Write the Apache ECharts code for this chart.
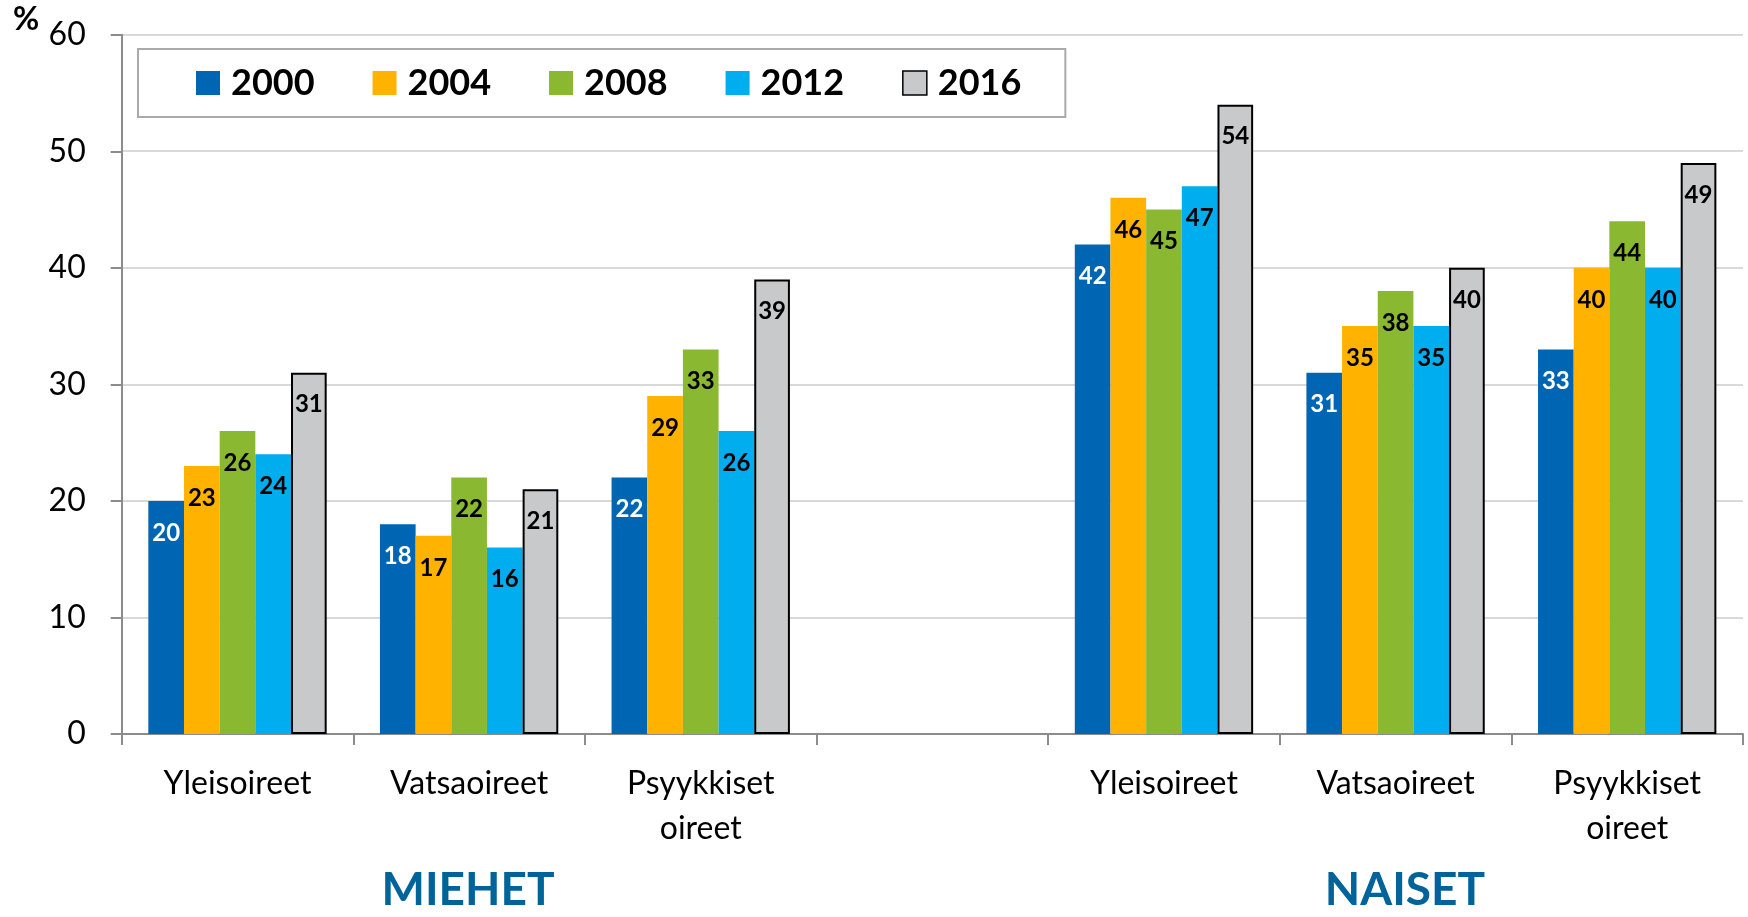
<!DOCTYPE html>
<html>
<head>
<meta charset="utf-8">
<script src="https://cdn.jsdelivr.net/npm/echarts@6/dist/echarts.min.js"></script>
<style>
html,body{margin:0;padding:0;background:#fff;}
#chart{width:1748px;height:917px;}
</style>
</head>
<body>
<div id="chart"></div>
<script>
const categories = ['Yleisoireet', 'Vatsaoireet', 'Psyykkiset\noireet', '', 'Yleisoireet', 'Vatsaoireet', 'Psyykkiset\noireet'];
const years = ['2000', '2004', '2008', '2012', '2016'];
const s2000 = [20, 18, 22, null, 42, 31, 33];
const s2004 = [23, 17, 29, null, 46, 35, 40];
const s2008 = [26, 22, 33, null, 45, 38, 44];
const s2012 = [24, 16, 26, null, 47, 35, 40];
const s2016 = [31, 21, 39, null, 54, 40, 49];
const yTicks = [0, 10, 20, 30, 40, 50, 60];
const groupLabels = ['MIEHET', 'NAISET'];

const colors = ['#0066b3', '#ffb300', '#8bb831', '#00adee', '#c8c9cb'];
const seriesData = [s2000, s2004, s2008, s2012, s2016];
const FONT = 'Lato, "Open Sans", sans-serif';

const chart = echarts.init(document.getElementById('chart'), null, {renderer: 'canvas'});

const series = years.map((y, i) => ({
  name: y,
  type: 'bar',
  data: seriesData[i],
  barGap: '0%',
  barCategoryGap: '23%',
  itemStyle: i === 4
    ? {color: colors[i], borderColor: '#000', borderWidth: 2}
    : {color: colors[i]},
  label: {
    show: true,
    position: 'insideTop',
    distance: 20,
    fontFamily: FONT,
    fontWeight: 'bold',
    fontSize: 24,
    color: i === 0 ? '#fff' : '#000'
  }
}));

chart.setOption({
  animation: false,
  backgroundColor: '#fff',
  color: colors,
  grid: {left: 121.7, right: 5, top: 34.7, bottom: 183, containLabel: false},
  legend: {
    data: years.map((y, i) => ({name: y, icon: 'rect', itemStyle: i === 4 ? {color: colors[4], borderColor: '#000', borderWidth: 1.5} : {color: colors[i]}})),
    left: 138,
    top: 49,
    orient: 'horizontal',
    itemWidth: 24,
    itemHeight: 24,
    itemGap: 58,
    padding: [16, 44, 16, 58],
    borderColor: '#aaaaaa',
    borderWidth: 2,
    backgroundColor: '#fff',
    textStyle: {fontFamily: FONT, fontWeight: 'bold', fontSize: 36, color: '#000', padding: [0, 0, 0, 6]}
  },
  xAxis: {
    type: 'category',
    data: categories,
    axisLine: {lineStyle: {color: '#8c8c8c', width: 2}},
    axisTick: {show: true, length: 11, interval: 0, lineStyle: {color: '#8c8c8c', width: 2}},
    axisLabel: {interval: 0, margin: 27, fontFamily: FONT, fontSize: 32, color: '#000', lineHeight: 45}
  },
  yAxis: {
    type: 'value',
    min: yTicks[0],
    max: yTicks[yTicks.length - 1],
    interval: 10,
    axisLine: {show: true, lineStyle: {color: '#8c8c8c', width: 2}},
    axisTick: {show: true, length: 11, lineStyle: {color: '#8c8c8c', width: 2}},
    axisLabel: {margin: 36, fontFamily: FONT, fontSize: 32, color: '#000'},
    splitLine: {show: true, lineStyle: {color: '#d9d9d9', width: 2}}
  },
  graphic: [
    {type: 'text', left: 13, top: 4, style: {text: '%', font: 'bold 32px ' + FONT, fill: '#000'}},
    {type: 'text', x: 468, y: 890, style: {text: groupLabels[0], font: 'bold 46px ' + FONT, fill: '#00639a', textAlign: 'center', textVerticalAlign: 'middle'}},
    {type: 'text', x: 1405, y: 890, style: {text: groupLabels[1], font: 'bold 46px ' + FONT, fill: '#00639a', textAlign: 'center', textVerticalAlign: 'middle'}}
  ],
  series: series
});
</script>
</body>
</html>
